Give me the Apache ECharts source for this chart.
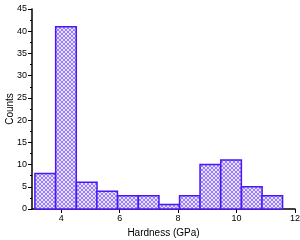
<!DOCTYPE html>
<html>
<head>
<meta charset="utf-8">
<script src="https://cdn.jsdelivr.net/npm/echarts@6/dist/echarts.min.js"></script>
<style>
  html, body { margin: 0; padding: 0; background: #fff; }
  #chart { width: 300px; height: 240px; }
</style>
</head>
<body>
<div id="chart"></div>
<script>
// histogram bins (GPa) and counts
var binStarts = [3.10, 3.81, 4.52, 5.22, 5.93, 6.64, 7.34, 8.05, 8.75, 9.46, 10.17, 10.87];
var binWidth = 0.705;
var counts = [8, 41, 6, 4, 3, 3, 1, 3, 10, 11, 5, 3];
var xTickLabels = [4, 6, 8, 10, 12];
var xMinorTicks = [5, 7, 9, 11];

// small hatch tile for the bar fill
var tile = document.createElement('canvas');
tile.width = 4; tile.height = 4;
var g = tile.getContext('2d');
g.fillStyle = '#e6defc';
g.fillRect(0, 0, 4, 4);
g.fillStyle = '#9a80f2';
for (var i = 0; i < 4; i++) {
    g.fillRect(i, i, 1, 1);
    g.fillRect(3 - i, i, 1, 1);
}

var data = binStarts.map(function (s, i) {
    return [s, s + binWidth, counts[i]];
});

var chart = echarts.init(document.getElementById('chart'));
chart.setOption({
    animation: false,
    grid: { left: 32, right: 5, top: 9, bottom: 31, outerBoundsMode: 'none', containLabel: false },
    xAxis: [{
        type: 'value',
        min: 3, max: 12,
        name: 'Hardness (GPa)',
        nameLocation: 'middle',
        nameGap: 19,
        nameMoveOverlap: false,
        nameTextStyle: { fontFamily: 'Liberation Sans', fontSize: 10, color: '#000' },
        axisLine: { lineStyle: { color: '#000', width: 1.5 } },
        axisTick: { customValues: xTickLabels, length: 4, lineStyle: { color: '#000' } },
        axisLabel: { customValues: xTickLabels, fontFamily: 'Liberation Sans', fontSize: 9, color: '#000', margin: 5 },
        splitLine: { show: false }
    }, {
        type: 'value',
        min: 3, max: 12,
        position: 'bottom',
        axisLine: { show: false },
        axisTick: { customValues: xMinorTicks, length: 2, inside: true, lineStyle: { color: '#000' } },
        axisLabel: { show: false },
        splitLine: { show: false }
    }],
    yAxis: {
        type: 'value',
        min: 0, max: 45, interval: 5,
        name: 'Counts',
        nameLocation: 'middle',
        nameGap: 17,
        nameMoveOverlap: false,
        nameTextStyle: { fontFamily: 'Liberation Sans', fontSize: 10, color: '#000' },
        axisLine: { show: true, lineStyle: { color: '#000', width: 1.5 } },
        axisTick: { show: true, length: 4, lineStyle: { color: '#000' } },
        minorTick: { show: true, splitNumber: 2, length: 2, lineStyle: { color: '#000' } },
        axisLabel: { fontFamily: 'Liberation Sans', fontSize: 9, color: '#000', margin: 5 },
        splitLine: { show: false }
    },
    series: [{
        type: 'custom',
        xAxisIndex: 0,
        data: data,
        encode: { x: [0, 1], y: 2 },
        renderItem: function (params, api) {
            var p0 = api.coord([api.value(0), 0]);
            var p1 = api.coord([api.value(1), api.value(2)]);
            return {
                type: 'rect',
                shape: { x: p0[0], y: p1[1], width: p1[0] - p0[0], height: p0[1] - p1[1] },
                style: {
                    fill: { image: tile, repeat: 'repeat' },
                    stroke: '#4a18f5',
                    lineWidth: 1.5
                }
            };
        }
    }]
});
</script>
</body>
</html>
